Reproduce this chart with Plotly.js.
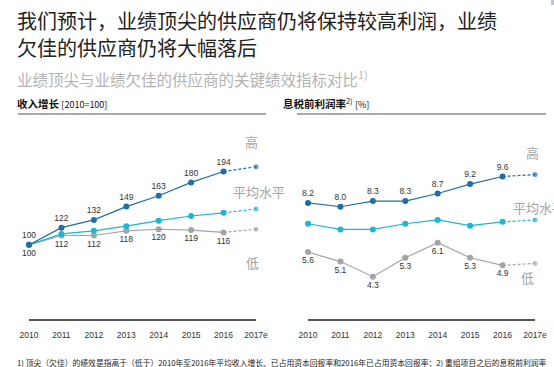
<!DOCTYPE html>
<html>
<head>
<meta charset="utf-8">
<script src="https://cdn.plot.ly/plotly-3.0.1.min.js"></script>
<style>html,body{margin:0;padding:0;background:#fff;}#chart{width:554px;height:367px;}</style>
</head>
<body>
<div id="chart"></div>
<script>
const years = ['2010','2011','2012','2013','2014','2015','2016','2017e'];
const revHigh = [100,122,132,149,163,180,194,200];
const revAvg  = [100,114,118,124,131,137,141,146];
const revLow  = [100,112,112,118,120,119,116,120];
const ebitHigh = [8.2,8.0,8.3,8.3,8.7,9.2,9.6,9.7];
const ebitAvg  = [7.1,6.8,6.8,7.1,7.3,7.0,7.2,7.3];
const ebitLow  = [5.6,5.1,4.3,5.3,6.1,5.3,4.9,5.0];

const colHigh = '#1f6ea6', colAvg = '#1db5d5', colLow = '#a3a4a6';
const W = 554, H = 367;
const px = v => v / W, py = v => 1 - v / H;
const xs = years.map((_, i) => i);
const lastSolid = 6;

function series(vals, color, xa, ya, labelPos, fmt) {
  const out = [];
  out.push({
    x: xs.slice(0, lastSolid + 1), y: vals.slice(0, lastSolid + 1),
    xaxis: xa, yaxis: ya, type: 'scatter',
    mode: labelPos ? 'lines+markers+text' : 'lines+markers',
    text: labelPos ? vals.slice(0, lastSolid + 1).map(fmt) : undefined,
    textposition: labelPos, textfont: {family: 'Liberation Sans, Arial', size: 8.5, color: '#333'},
    line: {color: color, width: 1.2}, marker: {color: color, size: 6},
    cliponaxis: false, hoverinfo: 'skip', showlegend: false
  });
  out.push({
    x: xs.slice(lastSolid), y: vals.slice(lastSolid),
    xaxis: xa, yaxis: ya, type: 'scatter', mode: 'lines+markers',
    line: {color: color, width: 1.2, dash: '3px,2px'},
    marker: {color: color, size: [0, 6]},
    cliponaxis: false, hoverinfo: 'skip', showlegend: false
  });
  return out;
}
const fmtInt = v => String(v);
const fmt1 = v => v.toFixed(1);

const data = [].concat(
  series(revLow, colLow, 'x', 'y', 'bottom center', fmtInt),
  series(revAvg, colAvg, 'x', 'y', null, fmtInt),
  series(revHigh, colHigh, 'x', 'y', 'top center', fmtInt),
  series(ebitLow, colLow, 'x2', 'y2', 'bottom center', fmt1),
  series(ebitAvg, colAvg, 'x2', 'y2', null, fmt1),
  series(ebitHigh, colHigh, 'x2', 'y2', 'top center', fmt1)
);

const xBase = {
  range: [0, 7], showgrid: false, zeroline: false, showline: true,
  linecolor: '#555', linewidth: 1.5, tickmode: 'array', tickvals: xs, ticktext: years,
  ticks: '', ticklabelstandoff: 7,
  tickfont: {family: 'Liberation Sans, Arial', size: 8.5, color: '#333'}
};
const yBase = {showgrid: false, zeroline: false, showline: false, showticklabels: false, ticks: ''};
const yDom = [py(319), py(120)];

const annFont = {family: 'Noto Sans CJK SC', color: '#a5a5a5', size: 13};
function ann(text, x, y, font, xanchor, yanchor) {
  return {text: text, xref: 'paper', yref: 'paper', x: px(x), y: py(y), showarrow: false,
    xanchor: xanchor || 'left', yanchor: yanchor || 'middle', align: 'left', font: font};
}

const layout = {
  width: W, height: H, margin: {l: 0, r: 0, t: 0, b: 0},
  paper_bgcolor: '#fff', plot_bgcolor: '#fff',
  xaxis: Object.assign({}, xBase, {domain: [px(29), px(256)], anchor: 'y'}),
  yaxis: Object.assign({}, yBase, {domain: yDom, range: [5, 260], anchor: 'x'}),
  xaxis2: Object.assign({}, xBase, {domain: [px(308), px(535)], anchor: 'y2'}),
  yaxis2: Object.assign({}, yBase, {domain: yDom, range: [2.06, 12.59], anchor: 'x2'}),
  shapes: [
    {type: 'line', xref: 'paper', yref: 'paper', x0: px(18), x1: px(266), y0: py(114), y1: py(114), line: {color: '#8c8c8c', width: 1.5}},
    {type: 'line', xref: 'paper', yref: 'paper', x0: px(297), x1: px(546), y0: py(114), y1: py(114), line: {color: '#8c8c8c', width: 1.5}},
    {type: 'rect', xref: 'paper', yref: 'paper', x0: px(551), x1: px(554), y0: py(5), y1: py(0), fillcolor: '#b9c6d2', line: {width: 0}}
  ],
  annotations: [
    ann('我们预计，业绩顶尖的供应商仍将保持较高利润，业绩', 15, 21,
        {family: 'Noto Sans CJK SC', size: 20, color: '#222'}),
    ann('欠佳的供应商仍将大幅落后', 15, 47,
        {family: 'Noto Sans CJK SC', size: 20, color: '#222'}),
    ann('业绩顶尖与业绩欠佳的供应商的关键绩效指标对比<sup>1)</sup>', 15, 78,
        {family: 'Noto Sans CJK SC', size: 15.5, color: '#b3b3b3'}),
    ann('<b>收入增长</b> <span style="font-size:9px">[2010=100]</span>', 15, 103,
        {family: 'Noto Sans CJK SC', size: 10.5, color: '#111'}),
    ann('<b>息税前利润率</b><sup>2)</sup> <span style="font-size:9px">[%]</span>', 281, 103,
        {family: 'Noto Sans CJK SC', size: 10.5, color: '#111'}),
    ann('高', 243, 142, annFont),
    ann('平均水平', 231, 192, annFont),
    ann('低', 244, 262, annFont),
    ann('高', 524, 152, annFont),
    ann('平均水平', 511, 207, annFont),
    ann('低', 519, 277, annFont),
    ann('1) 顶尖（欠佳）的绩效是指高于（低于）2010年至2016年平均收入增长、已占用资本回报率和2016年已占用资本回报率；2) 重组项目之后的息税前利润率', 15, 362,
        {family: 'Noto Sans CJK SC', size: 7.8, color: '#222'})
  ]
};

Plotly.newPlot('chart', data, layout, {staticPlot: true});
</script>
</body>
</html>
